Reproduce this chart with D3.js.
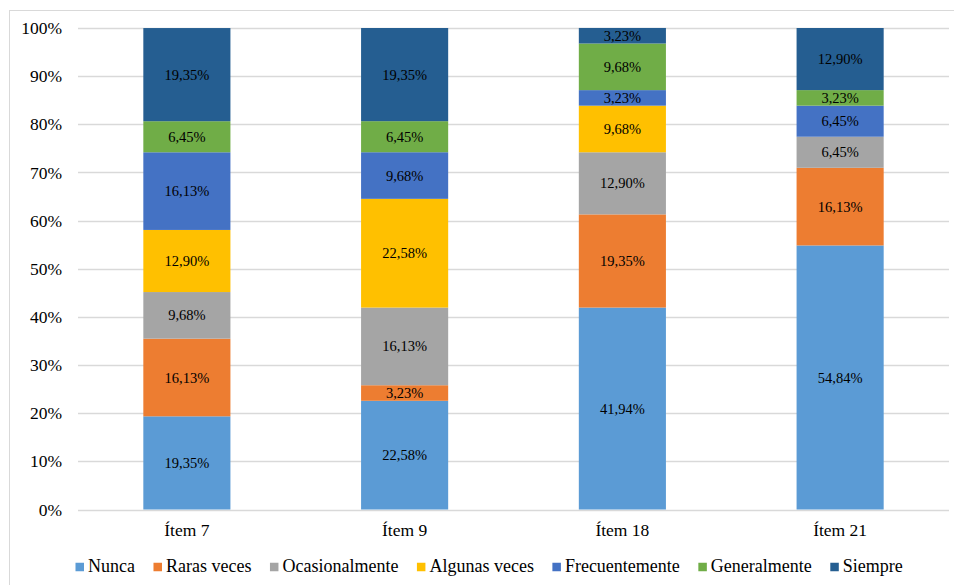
<!DOCTYPE html>
<html>
<head>
<meta charset="utf-8">
<script src="https://cdn.jsdelivr.net/npm/d3@7"></script>
</head>
<body style="margin:0;padding:0;background:#fff">
<svg id="chart" width="954" height="585" style="display:block"></svg>
<script>
// Survey items on the x axis
const items = ["Ítem 7", "Ítem 9", "Ítem 18", "Ítem 21"];

// Response categories (stack order, bottom to top)
const responses = ["Nunca", "Raras veces", "Ocasionalmente", "Algunas veces", "Frecuentemente", "Generalmente", "Siempre"];
const responseColors = ["#5B9BD5", "#ED7D31", "#A5A5A5", "#FFC000", "#4472C4", "#70AD47", "#255E91"];

// Percentage for each response, one value per item
const nunca          = [19.35, 22.58, 41.94, 54.84];
const rarasVeces     = [16.13,  3.23, 19.35, 16.13];
const ocasionalmente = [ 9.68, 16.13, 12.90,  6.45];
const algunasVeces   = [12.90, 22.58,  9.68,  0.00];
const frecuentemente = [16.13,  9.68,  3.23,  6.45];
const generalmente   = [ 6.45,  6.45,  9.68,  3.23];
const siempre        = [19.35, 19.35,  3.23, 12.90];

const yTicks = [0, 10, 20, 30, 40, 50, 60, 70, 80, 90, 100];

const seriesValues = [nunca, rarasVeces, ocasionalmente, algunasVeces, frecuentemente, generalmente, siempre];

const rows = items.map((item, i) => {
  const row = { item };
  responses.forEach((r, k) => { row[r] = seriesValues[k][i]; });
  return row;
});

const FONT = "'Liberation Serif', 'Times New Roman', Tinos, serif";
const svg = d3.select("#chart").style("font-family", FONT);
const margin = { left: 78, right: 5, top: 28, bottom: 75.5 };
const W = 954, H = 585;

// Outer frame
svg.append("rect")
  .attr("x", 9.5).attr("y", 10.5)
  .attr("width", W).attr("height", H)
  .attr("fill", "none").attr("stroke", "#d9d9d9").attr("stroke-width", 1);

const x = d3.scaleBand()
  .domain(items)
  .range([margin.left, W - margin.right])
  .paddingInner(0.6)
  .paddingOuter(0.3);

const y = d3.scaleLinear()
  .domain([0, 100])
  .range([H - margin.bottom, margin.top]);

// Gridlines
svg.append("g")
  .selectAll("line")
  .data(yTicks)
  .join("line")
  .attr("x1", margin.left).attr("x2", W - margin.right)
  .attr("y1", d => Math.round(y(d)) + 0.5).attr("y2", d => Math.round(y(d)) + 0.5)
  .attr("stroke", "#d9d9d9").attr("stroke-width", 1.5);

// Y axis tick labels
const yAxis = d3.axisLeft(y).tickValues(yTicks).tickFormat(d => d + "%").tickSize(0).tickPadding(16);
const yg = svg.append("g").attr("transform", `translate(${margin.left},0)`).call(yAxis);
yg.attr("font-family", null).attr("font-size", null);
yg.select(".domain").remove();
yg.selectAll("text")
  .style("font-family", FONT)
  .style("font-size", "17.5px").attr("fill", "#000");

// Stacked bars
const stack = d3.stack().keys(responses)(rows);

const layers = svg.append("g")
  .selectAll("g")
  .data(stack)
  .join("g")
  .attr("fill", (d, i) => responseColors[i]);

layers.selectAll("rect")
  .data(d => d)
  .join("rect")
  .attr("x", d => x(d.data.item))
  .attr("width", x.bandwidth())
  .attr("y", d => y(d[1]))
  .attr("height", d => y(d[0]) - y(d[1]));

// Value labels inside segments
layers.selectAll("text")
  .data(d => d.filter(s => s[1] - s[0] > 0))
  .join("text")
  .attr("x", d => x(d.data.item) + x.bandwidth() / 2)
  .attr("y", d => (y(d[0]) + y(d[1])) / 2)
  .attr("dy", "0.35em")
  .attr("text-anchor", "middle")
  .style("font-family", FONT)
  .style("font-size", "14.5px")
  .attr("fill", "#000")
  .text(d => (d[1] - d[0]).toFixed(2).replace(".", ",") + "%");

// X axis labels
const xAxis = d3.axisBottom(x).tickSize(0).tickPadding(14);
const xg = svg.append("g").attr("transform", `translate(0,${y(0)})`).call(xAxis);
xg.attr("font-family", null).attr("font-size", null);
xg.select(".domain").remove();
xg.selectAll("text")
  .style("font-family", FONT)
  .style("font-size", "17.5px").attr("fill", "#000");

// Legend
const legend = svg.append("g");
const legendY = 566;
const sw = 8.5, gapText = 4, gapItem = 18.5;
const entries = legend.selectAll("g")
  .data(responses)
  .join("g");
entries.append("rect")
  .attr("width", sw).attr("height", sw)
  .attr("y", legendY + 1 - sw / 2)
  .attr("fill", (d, i) => responseColors[i]);
entries.append("text")
  .attr("x", sw + gapText)
  .attr("y", legendY)
  .attr("dy", "0.35em")
  .style("font-family", FONT)
  .style("font-size", "18px")
  .attr("fill", "#000")
  .text(d => d);
const widths = [];
entries.each(function () {
  widths.push(sw + gapText + this.querySelector("text").getComputedTextLength());
});
let cx = 75.5;
entries.attr("transform", (d, i) => {
  const t = `translate(${cx},0)`;
  cx += widths[i] + gapItem;
  return t;
});
</script>
</body>
</html>
